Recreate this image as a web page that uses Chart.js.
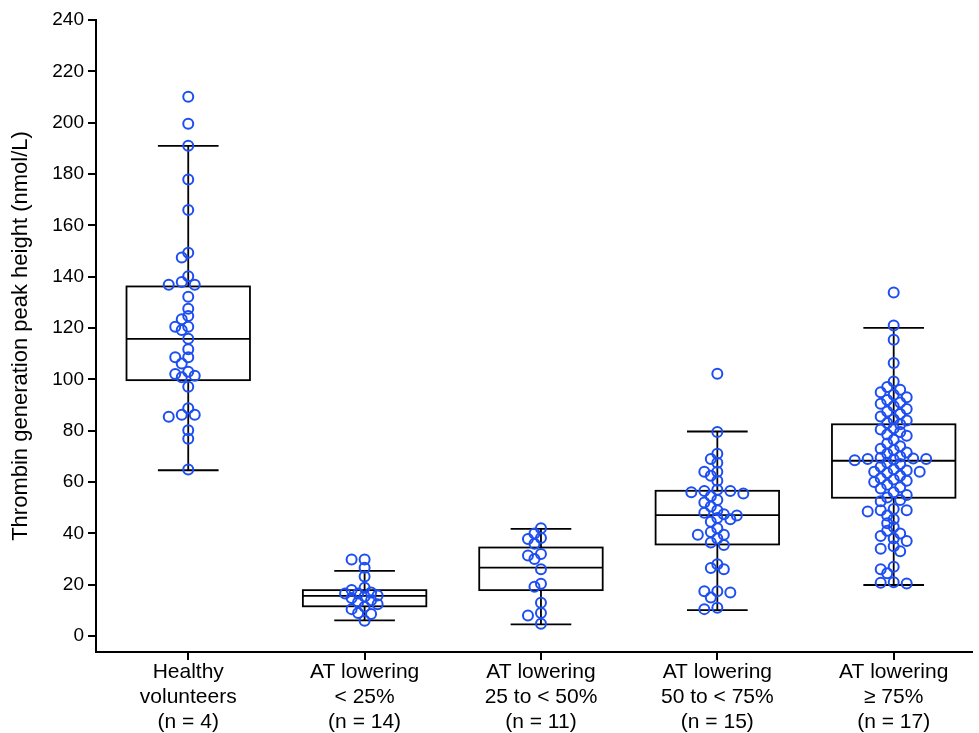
<!DOCTYPE html>
<html>
<head>
<meta charset="utf-8">
<script src="https://cdn.jsdelivr.net/npm/chart.js"></script>
<style>
  html, body { margin: 0; padding: 0; background: #fff; }
  #wrap { width: 979px; height: 733px; }
</style>
</head>
<body>
<div id="wrap"><canvas id="chart"></canvas></div>
<script>
// --- data ---
const catLine1 = ['Healthy', 'AT lowering', 'AT lowering', 'AT lowering', 'AT lowering'];
const catLine2 = ['volunteers', '< 25%', '25 to < 50%', '50 to < 75%', '\u2265 75%'];
const catN = ['(n = 4)', '(n = 14)', '(n = 11)', '(n = 15)', '(n = 17)'];

const yTicks = [0, 20, 40, 60, 80, 100, 120, 140, 160, 180, 200, 220, 240];

// box plot statistics
const whiskLo = [64.6, 6.1, 4.6, 10.1, 19.9];
const q1 = [99.7, 11.6, 17.9, 35.7, 53.9];
const median = [115.8, 15.7, 26.7, 47.1, 68.3];
const q3 = [136.2, 17.9, 34.5, 56.6, 82.5];
const whiskHi = [191.0, 25.4, 41.8, 79.7, 120.1];

// individual measurements
const healthy = [210.1, 199.6, 191.0, 177.9, 166.0, 149.3, 147.5, 140.2, 137.9, 136.9, 136.9,
  132.2, 127.5, 124.7, 123.4, 120.5, 120.5, 119.2, 115.8, 111.7, 108.6, 108.6, 106.2,
  103.0, 102.1, 101.4, 100.8, 97.1, 88.8, 86.2, 86.2, 85.4, 80.2, 76.9, 64.9];
const atLt25 = [29.8, 29.8, 26.6, 23.2, 18.8, 18.0, 17.0, 16.6, 16.6, 15.8, 15.4,
  14.8, 14.0, 13.2, 12.4, 11.4, 10.5, 9.0, 8.6, 6.0];
const at25to50 = [42.0, 40.0, 38.2, 37.8, 36.0, 32.0, 31.4, 30.0, 26.0, 20.4, 19.2, 13.0,
  9.0, 8.0, 4.8];
const at50to75 = [102.2, 79.5, 71.0, 69.0, 67.5, 64.0, 64.0, 62.5, 60.5, 57.0, 56.5, 56.5,
  56.0, 55.5, 54.5, 53.0, 52.0, 50.5, 49.0, 48.0, 47.5, 47.0, 46.0, 45.5, 44.5, 42.0,
  40.5, 39.5, 39.5, 38.0, 36.5, 35.5, 28.0, 26.5, 26.0, 17.5, 17.5, 17.0, 15.0, 11.0, 10.5];
const atGe75 = [133.8, 121.0, 115.4, 106.4, 99.2, 97.0, 96.0, 95.0, 94.0, 93.0, 92.0, 91.0,
  90.5, 89.5, 88.5, 87.5, 86.5, 85.5, 84.5, 84.0, 83.0, 82.5, 81.0, 80.5, 79.5, 78.5,
  78.0, 76.5, 75.0, 74.0, 73.0, 72.5, 71.5, 71.0, 70.0, 69.5, 69.2, 69.0, 69.0, 68.8,
  68.5, 67.5, 67.0, 66.0, 65.0, 64.5, 64.0, 64.0, 63.5, 62.5, 61.5, 61.0, 60.5, 60.0,
  59.0, 58.0, 57.5, 56.0, 55.0, 54.0, 53.0, 52.5, 49.5, 49.0, 49.0, 48.5, 47.0, 45.5,
  44.0, 42.5, 41.0, 40.0, 39.0, 38.0, 37.0, 35.0, 34.0, 33.0, 27.0, 26.0, 24.5, 21.0,
  20.8, 20.5];

const groups = [healthy, atLt25, at25to50, at50to75, atGe75];

const FONT = "'Liberation Sans', Arial, Helvetica, sans-serif";
const BLUE = '#1d4ef2';

// draw boxes and whiskers under the points
const boxPlugin = {
    id: 'boxes',
    beforeDatasetsDraw(chart) {
        const { ctx, scales: { x, y } } = chart;
        ctx.save();
        ctx.strokeStyle = '#000';
        ctx.lineWidth = 1.8;
        for (let i = 0; i < groups.length; i++) {
            const xl = x.getPixelForValue(i - 0.35);
            const xr = x.getPixelForValue(i + 0.35);
            const cl = x.getPixelForValue(i - 0.172);
            const cr = x.getPixelForValue(i + 0.172);
            const xc = x.getPixelForValue(i);
            const yLo = y.getPixelForValue(whiskLo[i]);
            const yHi = y.getPixelForValue(whiskHi[i]);
            const y1 = y.getPixelForValue(q1[i]);
            const y3 = y.getPixelForValue(q3[i]);
            const ym = y.getPixelForValue(median[i]);
            ctx.beginPath();
            // whiskers
            ctx.moveTo(xc, yHi); ctx.lineTo(xc, y3);
            ctx.moveTo(xc, y1); ctx.lineTo(xc, yLo);
            ctx.moveTo(cl, yHi); ctx.lineTo(cr, yHi);
            ctx.moveTo(cl, yLo); ctx.lineTo(cr, yLo);
            // median
            ctx.moveTo(xl, ym); ctx.lineTo(xr, ym);
            ctx.stroke();
            ctx.strokeRect(xl, y3, xr - xl, y1 - y3);
        }
        ctx.restore();
    }
};

const chart = new Chart(document.getElementById('chart'), {
    type: 'scatter',
    data: {
        datasets: groups.map((vals, i) => ({
            label: catLine1[i] + ' ' + catLine2[i],
            data: vals.map(v => ({ x: i, y: v })),
            pointStyle: 'circle',
            pointRadius: 5,
            pointBorderWidth: 2,
            pointBorderColor: BLUE,
            pointBackgroundColor: 'rgba(0,0,0,0)',
            pointHoverRadius: 5
        }))
    },
    options: {
        responsive: true,
        maintainAspectRatio: false,
        animation: false,
        layout: { padding: { top: 20, left: 8, right: 0, bottom: 0 } },
        plugins: { legend: { display: false }, tooltip: { enabled: false } },
        scales: {
            x: {
                type: 'linear',
                min: -0.523,
                max: 4.444,
                afterBuildTicks: axis => { axis.ticks = catN.map((_, i) => ({ value: i })); },
                afterFit: axis => { axis.height = 81; },
                ticks: {
                    autoSkip: false,
                    maxRotation: 0,
                    padding: 0,
                    color: '#000',
                    font: { family: FONT, size: 21, lineHeight: 1.19 },
                    callback: v => [catLine1[v], catLine2[v], catN[v]]
                },
                grid: { drawOnChartArea: false, color: '#000', lineWidth: 2, tickLength: 8 },
                border: { display: true, color: '#000', width: 2 }
            },
            y: {
                min: -6.2,
                max: 240,
                afterBuildTicks: axis => { axis.ticks = yTicks.map(v => ({ value: v })); },
                afterFit: axis => { axis.width = 88; },
                ticks: {
                    padding: 4,
                    color: '#000',
                    font: { family: FONT, size: 19 }
                },
                grid: { drawOnChartArea: false, color: '#000', lineWidth: 2, tickLength: 8 },
                border: { display: true, color: '#000', width: 2 },
                title: {
                    display: true,
                    text: 'Thrombin generation peak height (nmol/L)',
                    color: '#000',
                    font: { family: FONT, size: 22 },
                    padding: { top: 0, bottom: 2 }
                }
            }
        }
    },
    plugins: [boxPlugin]
});

// spread the points sideways (beeswarm) so overlapping markers stay visible
function spreadPoints() {
    const xs = chart.scales.x, ys = chart.scales.y;
    const step = 6.5, minDist = 7;
    const pxPerUnit = xs.getPixelForValue(1) - xs.getPixelForValue(0);
    chart.data.datasets.forEach((ds, i) => {
        const placed = [];
        const order = groups[i].map((v, k) => k).sort((a, b) => groups[i][b] - groups[i][a]);
        order.forEach(k => {
            const py = ys.getPixelForValue(groups[i][k]);
            let off = 0;
            for (let n = 0; n < 40; n++) {
                const cand = n === 0 ? 0 : (n % 2 ? -1 : 1) * Math.ceil(n / 2) * step;
                const hit = placed.some(p => (p.x - cand) ** 2 + (p.y - py) ** 2 < minDist * minDist);
                if (!hit) { off = cand; break; }
            }
            placed.push({ x: off, y: py });
            ds.data[k].x = i + off / pxPerUnit;
        });
    });
    chart.update('none');
}
spreadPoints();
</script>
</body>
</html>
